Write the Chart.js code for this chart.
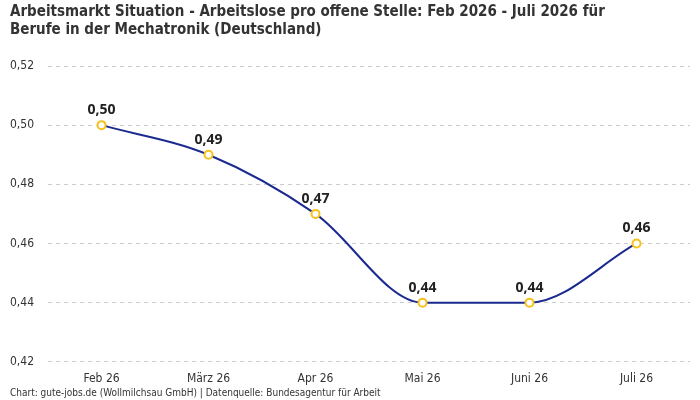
<!DOCTYPE html>
<html>
<head>
<meta charset="utf-8">
<script src="https://cdn.jsdelivr.net/npm/chart.js@4/dist/chart.umd.min.js"></script>
<style>
  html, body { margin: 0; padding: 0; background: #fff; }
  #wrap { width: 700px; height: 400px; }
</style>
</head>
<body>
<div id="wrap"><canvas id="chart"></canvas></div>
<script>
// Daten: Arbeitslose pro offene Stelle, Mechatronik
const months = ['Feb 26', 'März 26', 'Apr 26', 'Mai 26', 'Juni 26', 'Juli 26'];
const ratio = [0.50, 0.49, 0.47, 0.44, 0.44, 0.46];
const yTicks = [0.42, 0.44, 0.46, 0.48, 0.50, 0.52];

const condensed = "'Liberation Sans Narrow', 'DejaVu Sans Condensed', sans-serif";
const fmt = v => v.toFixed(2).replace('.', ',');

// draws the value above each point
const valueLabels = {
    id: 'valueLabels',
    afterDatasetsDraw(chart) {
        const ctx = chart.ctx;
        const meta = chart.getDatasetMeta(0);
        ctx.save();
        ctx.font = "bold 14px 'Noto Sans', sans-serif";
        ctx.fillStyle = '#222';
        ctx.textAlign = 'center';
        ctx.textBaseline = 'bottom';
        meta.data.forEach((pt, i) => {
            ctx.fillText(fmt(ratio[i]), pt.x, pt.y - 8);
        });
        ctx.restore();
    }
};

new Chart(document.getElementById('chart'), {
    type: 'line',
    data: {
        labels: months,
        datasets: [{
            data: ratio,
            borderColor: '#1b2a8f',
            borderWidth: 2,
            cubicInterpolationMode: 'monotone',
            pointRadius: 4,
            pointBorderWidth: 2,
            pointBackgroundColor: '#fff',
            pointBorderColor: '#f5c21b',
            fill: false
        }]
    },
    options: {
        responsive: true,
        maintainAspectRatio: false,
        animation: false,
        layout: { padding: { left: 10, right: 10, top: 3, bottom: 0 } },
        plugins: {
            legend: { display: false },
            tooltip: { enabled: false },
            title: {
                display: true,
                text: ['Arbeitsmarkt Situation - Arbeitslose pro offene Stelle: Feb 2026 - Juli 2026 für',
                       'Berufe in der Mechatronik (Deutschland)'],
                align: 'start',
                color: '#333',
                font: { family: condensed, size: 15, weight: 'bold', lineHeight: 1.2 },
                padding: { top: 0, bottom: 27 }
            },
            subtitle: {
                display: true,
                position: 'bottom',
                text: 'Chart: gute-jobs.de (Wollmilchsau GmbH) | Datenquelle: Bundesagentur für Arbeit',
                align: 'start',
                color: '#333',
                font: { family: condensed, size: 10, lineHeight: 1.1 },
                padding: { top: 1, bottom: 1 }
            }
        },
        scales: {
            x: {
                offset: true,
                grid: { display: false },
                border: { display: false },
                ticks: { color: '#333', font: { family: condensed, size: 12, lineHeight: 1.1 }, padding: 2 }
            },
            y: {
                min: yTicks[0],
                max: yTicks[yTicks.length - 1],
                afterBuildTicks: axis => { axis.ticks = yTicks.map(v => ({ value: v })); },
                grid: { color: '#cccccc', drawTicks: false },
                border: { display: false, dash: [4, 4] },
                ticks: {
                    color: '#333',
                    crossAlign: 'far',
                    padding: 7,
                    font: { family: condensed, size: 12 },
                    callback: v => fmt(v)
                }
            }
        }
    },
    plugins: [valueLabels]
});
</script>
</body>
</html>
